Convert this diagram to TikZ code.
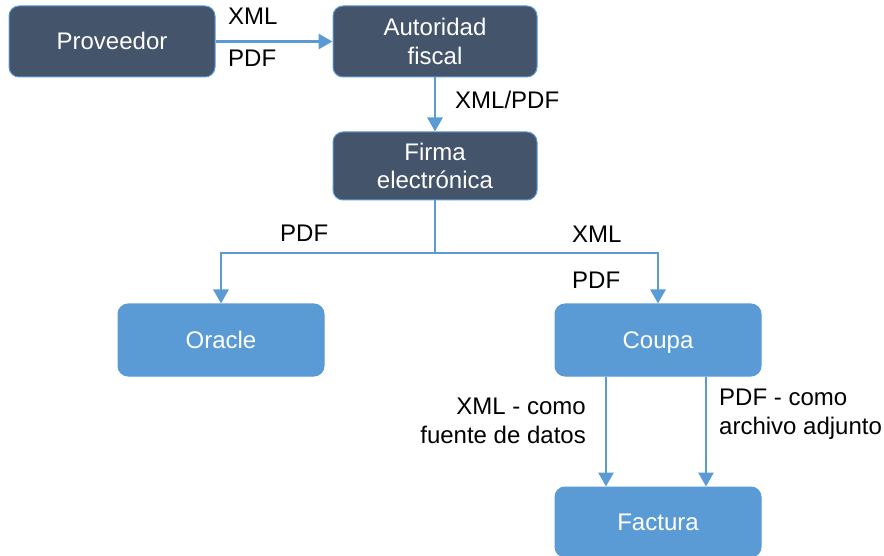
\documentclass[tikz,border=0pt]{standalone}
\usepackage{fontspec}
\setmainfont{Liberation Sans}
\usetikzlibrary{arrows.meta}
\definecolor{darkbox}{HTML}{44546A}
\definecolor{bluebox}{HTML}{5B9BD5}
\tikzset{
  base/.style={rounded corners=10pt, align=center, text=white, inner sep=2pt,
    font=\fontsize{24}{28.5}\selectfont},
  oneline/.style={text height=17pt, text depth=0pt},
  darknode/.style={base, fill=darkbox, draw=bluebox, line width=1pt},
  bluenode/.style={base, fill=bluebox, draw=bluebox, line width=1pt},
  arr/.style={draw=bluebox, line width=2.8pt, -{Triangle[length=14pt,width=15pt]}},
  lbl/.style={font=\fontsize{24}{28.5}\selectfont, text=black, inner sep=0pt}
}
\begin{document}
\begin{tikzpicture}[x=1pt,y=-1pt]
\useasboundingbox (0,0) rectangle (884,556);
\node[darknode, oneline, minimum width=206pt, minimum height=71pt] (prov) at (112,41.5) {Proveedor};
\node[darknode, minimum width=204pt, minimum height=71pt] (auth) at (435,41.5) {Autoridad\\fiscal};
\node[darknode, minimum width=204pt, minimum height=68pt] (firma) at (435,166) {Firma\\electrónica};
\node[bluenode, oneline, minimum width=206pt, minimum height=72pt] (oracle) at (221,340) {Oracle};
\node[bluenode, oneline, minimum width=206pt, minimum height=72pt] (coupa) at (658,340) {Coupa};
\node[bluenode, oneline, minimum width=206pt, minimum height=70pt] (factura) at (658,522) {Factura};
\coordinate (j) at (435,253);
\draw[arr] (prov.east) -- (auth.west);
\draw[arr] (auth.south) -- (firma.north);
\draw[arr] (firma.south) -- (j) -| (oracle.north);
\draw[arr] (j) -| (coupa.north);
\draw[arr] ([xshift=-52pt]coupa.south) -- ([xshift=-52pt]factura.north);
\draw[arr] ([xshift=48pt]coupa.south) -- ([xshift=48pt]factura.north);
\node[lbl, anchor=base west] (l1) at (228,25) {XML};
\node[lbl, anchor=base west] (l2) at (228,67) {PDF};
\node[lbl, anchor=base west] (l3) at (455,109) {XML/PDF};
\node[lbl, anchor=base west] (l4) at (280,242) {PDF};
\node[lbl, anchor=base west] (l5) at (572,243) {XML};
\node[lbl, anchor=base west] (l6) at (572,288) {PDF};
\node[lbl, anchor=north east, align=right] (l7) at (586,398) {XML - como\\fuente de datos};
\node[lbl, anchor=north west, align=left] (l8) at (719,389) {PDF - como\\archivo adjunto};
\end{tikzpicture}
\end{document}
